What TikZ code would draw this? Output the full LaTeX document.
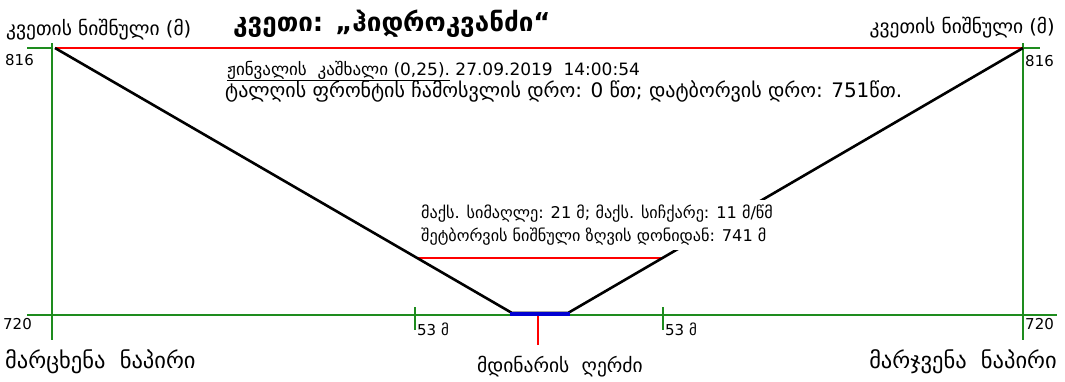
\documentclass[tikz,border=0pt]{standalone}
\usepackage{fontspec}
\setmainfont{DejaVu Sans}
\usetikzlibrary{positioning}
\definecolor{axisgreen}{RGB}{30,140,30}
\definecolor{bedblue}{RGB}{0,0,210}
\tikzset{
 axis/.style={draw=axisgreen, line width=1.2pt},
 level/.style={draw=red, line width=2.8pt},
 profile/.style={draw=black, line width=2.6pt, line join=round},
 lbl/.style={inner sep=0pt, font=\fontsize{19.5}{21}\selectfont},
 num/.style={inner sep=0pt, font=\fontsize{15}{17}\selectfont},
 info/.style={inner ysep=5pt, inner xsep=2pt, fill=white, align=left, font=\fontsize{16.2}{23}\selectfont},
 bank/.style={inner sep=0pt, font=\fontsize{22.5}{24}\selectfont}
}
\begin{document}
\begin{tikzpicture} [x=1pt, y=-1pt]
 \useasboundingbox (0,0) rectangle (1065,381);
 % profile points
 \coordinate (ltop) at (55,48);
 \coordinate (rtop) at (1023,48);
 \coordinate (lbed) at (512,313);
 \coordinate (rbed) at (568,313);
 \coordinate (lwater) at (416,258);
 \coordinate (rwater) at (664,258);
 % axes
 \draw[axis] (52,43) -- (52,340);
 \draw[axis] (1023,43) -- (1023,340);
 \draw[axis] (27,48) -- (52,48);
 \draw[axis] (1023,48) -- (1040,48);
 \draw[axis] (27,315) -- (1057,315);
 \draw[axis] (415,307) -- (415,330);
 \draw[axis] (663,307) -- (663,330);
 % levels
 \draw[level] (ltop) -- (rtop);
 \draw[level] (lwater) -- (rwater);
 \draw[profile] (ltop) -- (lbed) -- (rbed) -- (rtop);
 \draw[draw=bedblue, line width=3.5pt] (510,314) -- (570,314);
 \draw[draw=red, line width=1.4pt] (538,316) -- (538,345);
 % labels
 \draw (6,30) node [lbl, anchor=west] (ltitle) {კვეთის ნიშნული (მ)};
 \draw (1055,28) node [lbl, anchor=east] (rtitle) {კვეთის ნიშნული (მ)};
 \draw (233,24) node [anchor=west, inner sep=0pt, font=\fontsize{26}{28}\selectfont\bfseries] (title) {კვეთი: „ჰიდროკვანძი“};
 \draw (5,60) node [num, anchor=west] (l816) {816};
 \draw (1025,61) node [num, anchor=west] (r816) {816};
 \draw (3,324) node [num, anchor=west] (l720) {720};
 \draw (1025,324) node [num, anchor=west] (r720) {720};
 \draw (417,329) node [num, anchor=west] (l53) {53 მ};
 \draw (665,329) node [num, anchor=west] (r53) {53 მ};
 \draw (227,71) node [inner sep=0pt, anchor=west, font=\fontsize{17}{19}\selectfont] (dam) {\underline{ჟინვალის\ \ კაშხალი (0,25).} 27.09.2019\ \ 14:00:54};
 \draw (225,91) node [inner sep=0pt, anchor=west, font=\fontsize{20}{22}\selectfont] (times) {ტალღის ფრონტის ჩამოსვლის დრო: 0 წთ; დატბორვის დრო: 751წთ.};
 \draw (419,225) node [info, anchor=west] (stats) {მაქს. სიმაღლე: 21 მ; მაქს. სიჩქარე: 11 მ/წმ\\შეტბორვის ნიშნული ზღვის დონიდან: 741 მ};
 \draw (5,362) node [bank, anchor=west] (lbank) {მარცხენა\ \ ნაპირი};
 \draw (1057,362) node [bank, anchor=east] (rbank) {მარჯვენა\ \ ნაპირი};
 \draw (477,367) node [inner sep=0pt, anchor=west, font=\fontsize{19.5}{21}\selectfont] (river) {მდინარის\ \ ღერძი};
\end{tikzpicture}
\end{document}
